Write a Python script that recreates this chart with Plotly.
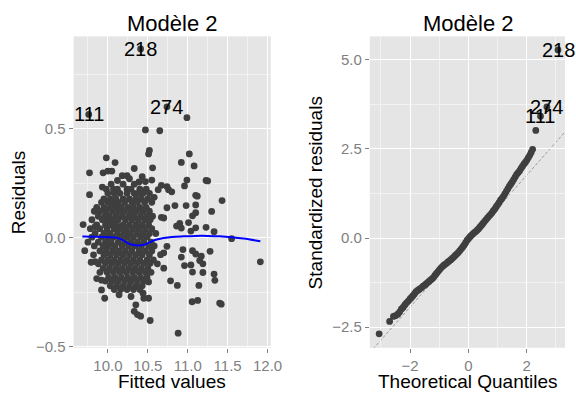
import plotly.graph_objects as go

# ---------------- data: residuals vs fitted (left panel) ----------------
# scattered points (fitted, residual)
scatter_fitted = [10.41, 9.76, 10.74, 10.99, 10.47, 10.65, 10.52, 10.51, 11.02, 9.98,
                  10.92, 11.08, 10.09, 10.33, 10.56, 9.77, 9.94, 10.00, 10.05, 10.18,
                  10.24, 10.43, 10.47, 10.55, 10.99, 10.96, 11.23, 11.25, 10.67, 10.74,
                  10.80, 10.76, 10.63, 9.77, 11.10, 11.12, 11.43, 10.74, 10.84, 10.98,
                  11.10, 11.30, 11.10, 11.06, 10.67, 10.70, 10.90, 10.86, 10.92, 11.01,
                  11.04, 11.10, 11.23, 11.33, 11.55, 9.69, 9.84, 9.71, 9.79, 9.84,
                  9.88, 10.94, 10.92, 11.06, 11.10, 11.28, 10.74, 10.70, 10.66, 10.96,
                  11.17, 11.15, 11.19, 11.04, 11.06, 11.19, 10.70, 10.62, 9.86, 9.92,
                  9.92, 9.96, 10.785, 10.87, 10.51, 11.14, 11.33, 11.34, 10.29, 10.45,
                  10.51, 10.35, 10.33, 10.37, 10.41, 10.53, 11.055, 11.125, 11.40, 11.42,
                  10.88, 11.91, 10.12, 10.27, 10.39, 9.93, 10.58, 10.14, 10.44]
scatter_resid = [0.865, 0.565, 0.600, 0.550, 0.494, 0.490, 0.400, 0.384, 0.384, 0.366,
                 0.345, 0.329, 0.344, 0.317, 0.320, 0.297, 0.297, 0.305, 0.305, 0.284,
                 0.284, 0.280, 0.257, 0.264, 0.264, 0.237, 0.262, 0.260, 0.240, 0.234,
                 0.210, 0.220, 0.220, 0.197, 0.194, 0.190, 0.170, 0.137, 0.147, 0.147,
                 0.150, 0.120, 0.114, 0.100, 0.093, 0.090, 0.065, 0.053, 0.044, 0.069,
                 0.030, 0.045, 0.047, 0.027, -0.005, 0.060, 0.050, -0.060, -0.113, -0.110,
                 -0.120, -0.055, -0.089, -0.060, -0.075, -0.063, -0.040, -0.070, -0.078, -0.128,
                 -0.085, -0.105, -0.120, -0.125, -0.158, -0.160, -0.140, -0.120, -0.188, -0.195,
                 -0.240, -0.278, -0.198, -0.219, -0.203, -0.219, -0.167, -0.196, -0.270, -0.278,
                 -0.278, -0.308, -0.338, -0.353, -0.360, -0.380, -0.294, -0.288, -0.300, -0.305,
                 -0.438, -0.111, 0.262, 0.270, 0.255, 0.232, 0.185, -0.262, -0.255]

# dense cluster, read row by row: (residual, [fitted values])
cluster_rows = [
    (0.245, [10.04, 10.19, 10.33]),
    (0.222, [9.98, 10.07, 10.12, 10.24, 10.29, 10.40, 10.48]),
    (0.203, [10.00, 10.08, 10.15, 10.24, 10.33, 10.38, 10.44, 10.52]),
    (0.178, [9.95, 10.03, 10.10, 10.19, 10.27, 10.35, 10.42, 10.50]),
    (0.162, [9.92, 10.00, 10.07, 10.13, 10.21, 10.30, 10.37, 10.46, 10.55]),
    (0.139, [9.86, 9.95, 10.03, 10.10, 10.17, 10.25, 10.32, 10.40, 10.48]),
    (0.121, [9.83, 9.90, 9.98, 10.06, 10.14, 10.21, 10.29, 10.36, 10.44, 10.52]),
    (0.098, [9.88, 9.96, 10.02, 10.10, 10.18, 10.26, 10.33, 10.41, 10.49, 10.56]),
    (0.082, [9.80, 9.93, 10.00, 10.07, 10.13, 10.22, 10.30, 10.38, 10.46, 10.53]),
    (0.058, [9.86, 9.97, 10.04, 10.11, 10.19, 10.27, 10.35, 10.43, 10.51]),
    (0.041, [9.78, 9.90, 9.99, 10.08, 10.15, 10.23, 10.31, 10.39, 10.47, 10.55]),
    (0.019, [9.84, 9.95, 10.03, 10.12, 10.20, 10.28, 10.36, 10.44, 10.52, 10.60]),
    (0.002, [9.80, 9.92, 10.00, 10.07, 10.16, 10.24, 10.32, 10.41, 10.49]),
    (-0.021, [9.75, 9.88, 9.97, 10.04, 10.13, 10.21, 10.29, 10.37, 10.45, 10.54]),
    (-0.038, [9.83, 9.94, 10.01, 10.09, 10.18, 10.26, 10.34, 10.42, 10.51, 10.58]),
    (-0.061, [9.90, 9.98, 10.06, 10.14, 10.22, 10.30, 10.39, 10.47, 10.55]),
    (-0.079, [9.82, 9.95, 10.03, 10.11, 10.19, 10.27, 10.35, 10.43, 10.52]),
    (-0.102, [9.92, 10.00, 10.08, 10.16, 10.24, 10.32, 10.40, 10.49, 10.57]),
    (-0.118, [9.97, 10.05, 10.13, 10.21, 10.29, 10.37, 10.45, 10.53]),
    (-0.141, [9.94, 10.02, 10.10, 10.18, 10.26, 10.34, 10.42, 10.50]),
    (-0.159, [9.90, 9.99, 10.07, 10.15, 10.23, 10.31, 10.39, 10.47, 10.54]),
    (-0.182, [10.01, 10.09, 10.17, 10.25, 10.33, 10.41, 10.49]),
    (-0.199, [9.97, 10.05, 10.13, 10.21, 10.29, 10.37, 10.45]),
    (-0.221, [10.03, 10.11, 10.19, 10.27, 10.35, 10.43]),
    (-0.238, [10.08, 10.16, 10.24, 10.32, 10.40]),
]

smooth_fitted = [9.68, 9.85, 10.0, 10.1, 10.18, 10.25, 10.32, 10.38, 10.45, 10.52,
                 10.6, 10.7, 10.8, 10.95, 11.1, 11.25, 11.4, 11.55, 11.7, 11.91]
smooth_resid = [0.005, 0.004, 0.002, 0.0, -0.01, -0.025, -0.034, -0.036, -0.033, -0.022,
                -0.01, -0.002, 0.003, 0.006, 0.008, 0.008, 0.006, 0.002, -0.004, -0.017]

left_labels = ["218", "111", "274"]
left_label_fitted = [10.41, 9.76, 10.74]
left_label_resid = [0.865, 0.565, 0.600]

# ---------------- data: normal Q-Q (right panel) ----------------
qq_theoretical = [-3.06, -2.70, -2.57, -2.50, -2.42, -2.36, -2.30, -2.24, -2.18, -2.12, -2.06, -2.00,
                  -1.95, -1.90, -1.85, -1.80, -1.75, -1.70, -1.65, -1.60, -1.55, -1.50,
                  -1.45, -1.40, -1.35, -1.30, -1.25, -1.20, -1.15, -1.10, -1.05, -1.00,
                  -0.95, -0.90, -0.85, -0.80, -0.75, -0.70, -0.65, -0.60, -0.55, -0.50,
                  -0.45, -0.40, -0.35, -0.30, -0.25, -0.20, -0.15, -0.10, -0.05, 0.00,
                  0.05, 0.10, 0.15, 0.20, 0.25, 0.30, 0.35, 0.40, 0.45, 0.50,
                  0.55, 0.60, 0.65, 0.70, 0.75, 0.80, 0.85, 0.90, 0.95, 1.00,
                  1.05, 1.10, 1.15, 1.20, 1.25, 1.30, 1.35, 1.40, 1.45, 1.50,
                  1.55, 1.60, 1.65, 1.70, 1.75, 1.80, 1.85, 1.90, 1.95, 2.00,
                  2.05, 2.10, 2.15, 2.20, 2.31, 2.47, 2.69, 3.07]
qq_sample = [-2.69, -2.34, -2.20, -2.18, -2.14, -2.08, -2.00, -1.95, -1.88, -1.82, -1.77, -1.71,
             -1.67, -1.62, -1.57, -1.51, -1.48, -1.45, -1.42, -1.39, -1.35, -1.32,
             -1.29, -1.25, -1.22, -1.18, -1.15, -1.11, -1.05, -1.00, -0.95, -0.90,
             -0.85, -0.81, -0.77, -0.74, -0.71, -0.67, -0.64, -0.61, -0.57, -0.53,
             -0.49, -0.45, -0.41, -0.36, -0.31, -0.26, -0.20, -0.14, -0.07, -0.02,
             0.03, 0.07, 0.11, 0.15, 0.18, 0.22, 0.26, 0.31, 0.36, 0.41,
             0.46, 0.51, 0.56, 0.61, 0.65, 0.70, 0.76, 0.81, 0.87, 0.93,
             0.99, 1.06, 1.11, 1.17, 1.24, 1.31, 1.38, 1.45, 1.51, 1.57,
             1.64, 1.71, 1.78, 1.83, 1.88, 1.95, 2.01, 2.07, 2.12, 2.18,
             2.25, 2.32, 2.40, 2.49, 3.02, 3.42, 3.68, 5.28]
qq_slope = 0.926
qq_intercept = -0.087

right_labels = ["218", "274", "111"]
right_label_theo = [3.07, 2.69, 2.47]
right_label_std = [5.28, 3.68, 3.42]

title_text = "Modèle 2"

# ---------------- build ----------------
fitted = list(scatter_fitted)
resid = list(scatter_resid)
for r, xs in cluster_rows:
    for xv in xs:
        fitted.append(xv)
        resid.append(r)

W, H = 576, 396
PT_COLOR = "#3F3F3F"
FONT = "Liberation Sans, Arial, sans-serif"
TICK_GRAY = "#7F7F7F"
MSIZE = 6.8

x1_range = [9.57, 12.04]
y1_range = [-0.505, 0.923]
x2_range = [-3.38, 3.31]
y2_range = [-3.08, 5.66]

x1_dom = [75 / W, 276 / W]
x2_dom = [377 / W, 1.0]
y_dom = [42 / H, 359 / H]

fig = go.Figure()

fig.add_trace(go.Scatter(x=fitted, y=resid, mode="markers", xaxis="x", yaxis="y",
                         marker=dict(color=PT_COLOR, size=MSIZE, line=dict(width=0)),
                         hoverinfo="skip", showlegend=False))
fig.add_trace(go.Scatter(x=smooth_fitted, y=smooth_resid, mode="lines", xaxis="x", yaxis="y",
                         line=dict(color="#0000FF", width=2, shape="spline"),
                         hoverinfo="skip", showlegend=False))
fig.add_trace(go.Scatter(x=qq_theoretical, y=qq_sample, mode="markers", xaxis="x2", yaxis="y2",
                         marker=dict(color=PT_COLOR, size=MSIZE, line=dict(width=0)),
                         hoverinfo="skip", showlegend=False))

shapes = [
    dict(type="line", xref="x", yref="y", x0=x1_range[0], x1=x1_range[1], y0=0, y1=0,
         line=dict(color="#B3B3B3", width=1, dash="4px,3px"), layer="below"),
    dict(type="line", xref="x2", yref="y2",
         x0=x2_range[0], x1=x2_range[1],
         y0=qq_intercept + qq_slope * x2_range[0], y1=qq_intercept + qq_slope * x2_range[1],
         line=dict(color="#999999", width=1, dash="3px,2px"), layer="below"),
]

annotations = []
for t, xv, yv in zip(left_labels, left_label_fitted, left_label_resid):
    annotations.append(dict(text=t, x=xv, y=yv, xref="x", yref="y", showarrow=False,
                            xanchor="center", yanchor="middle",
                            font=dict(family=FONT, size=20, color="black")))
for t, xv, yv in zip(right_labels, right_label_theo, right_label_std):
    annotations.append(dict(text=t, x=xv, y=yv, xref="x2", yref="y2", showarrow=False,
                            xanchor="center", yanchor="middle",
                            font=dict(family=FONT, size=20, color="black")))

title_y = 1 - 24 / H
for dom in (x1_dom, [377 / W, 578 / W]):
    annotations.append(dict(text=title_text, x=(dom[0] + dom[1]) / 2, y=title_y,
                            xref="paper", yref="paper", showarrow=False,
                            xanchor="center", yanchor="middle",
                            font=dict(family=FONT, size=22, color="black")))

axis_title_font = dict(family=FONT, size=19, color="black")
annotations += [
    dict(text="Fitted values", x=(x1_dom[0] + x1_dom[1]) / 2, y=1 - 388 / H,
         xref="paper", yref="paper", showarrow=False, xanchor="center", yanchor="middle",
         font=axis_title_font),
    dict(text="Theoretical Quantiles", x=477 / W, y=1 - 388 / H,
         xref="paper", yref="paper", showarrow=False, xanchor="center", yanchor="middle",
         font=axis_title_font),
    dict(text="Residuals", x=19 / W, y=1 - 196 / H, textangle=-90,
         xref="paper", yref="paper", showarrow=False, xanchor="center", yanchor="middle",
         font=axis_title_font),
    dict(text="Standardized residuals", x=322 / W, y=1 - 196 / H, textangle=-90,
         xref="paper", yref="paper", showarrow=False, xanchor="center", yanchor="middle",
         font=axis_title_font),
]


def axis(domain, rng, tickvals, ticktext, minor_dtick, anchor):
    return dict(domain=domain, range=rng, anchor=anchor,
                tickmode="array", tickvals=tickvals, ticktext=ticktext,
                showgrid=True, gridcolor="white", gridwidth=1.1,
                zeroline=False, showline=False,
                ticks="outside", ticklen=4, tickwidth=1, tickcolor=TICK_GRAY,
                tickfont=dict(family=FONT, size=15, color=TICK_GRAY),
                minor=dict(dtick=minor_dtick, tick0=0, showgrid=True,
                           gridcolor="#F2F2F2", gridwidth=0.6, ticks=""),
                fixedrange=True)


x1_ticks = [10.0, 10.5, 11.0, 11.5, 12.0]
x1_ticktext = ["10.0", "10.5", "11.0", "11.5", "12.0"]
y1_ticks = [-0.5, 0.0, 0.5]
y1_ticktext = ["\u22120.5", "0.0", "0.5"]
x2_ticks = [-2, 0, 2]
x2_ticktext = ["\u22122", "0", "2"]
y2_ticks = [-2.5, 0.0, 2.5, 5.0]
y2_ticktext = ["\u22122.5", "0.0", "2.5", "5.0"]

fig.update_layout(
    width=W, height=H,
    margin=dict(l=0, r=0, t=0, b=0),
    paper_bgcolor="white", plot_bgcolor="#E5E5E5",
    showlegend=False,
    xaxis=axis(x1_dom, x1_range, x1_ticks, x1_ticktext, 0.25, "y"),
    yaxis=axis(y_dom, y1_range, y1_ticks, y1_ticktext, 0.25, "x"),
    xaxis2=axis(x2_dom, x2_range, x2_ticks, x2_ticktext, 1, "y2"),
    yaxis2=axis(y_dom, y2_range, y2_ticks, y2_ticktext, 1.25, "x2"),
    shapes=shapes,
    annotations=annotations,
    font=dict(family=FONT),
)

pin_js = (
    "document.documentElement.style.margin='0px';"
    "document.documentElement.style.overflow='hidden';"
    "document.body.style.margin='0px';"
    "document.body.style.overflow='hidden';"
    "var gd=document.getElementsByClassName('plotly-graph-div')[0];"
    "gd.style.position='fixed';gd.style.left='0px';gd.style.top='0px';"
)

fig.write_html("out.html", config={"displayModeBar": False, "responsive": False},
               post_script=pin_js)
